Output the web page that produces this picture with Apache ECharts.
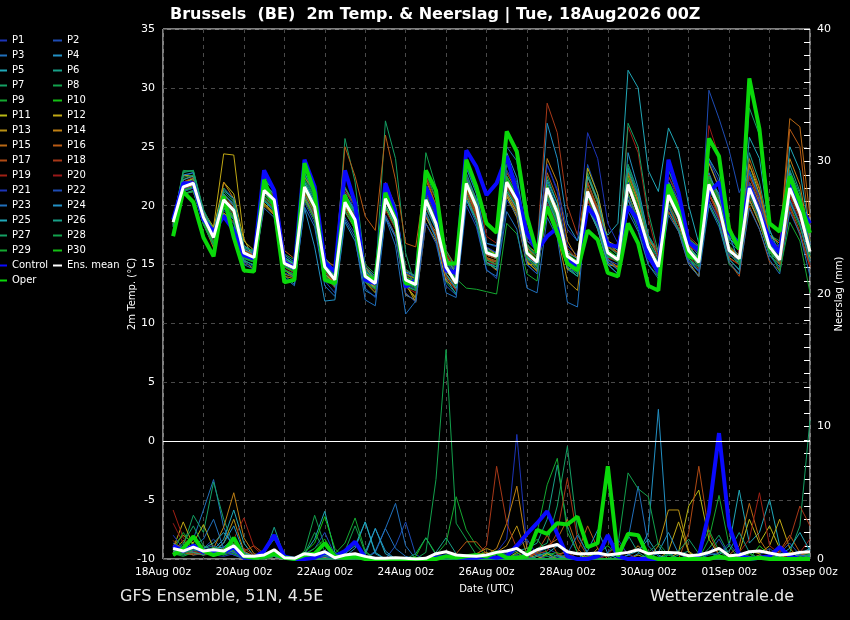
<!DOCTYPE html>
<html><head><meta charset="utf-8">
<script src="https://cdn.jsdelivr.net/npm/echarts@6/dist/echarts.min.js"></script>
<style>html,body{margin:0;padding:0;background:#000}#c{width:850px;height:620px}</style>
</head><body><div id="c"></div>
<script>
// forecast hours (6-hourly, from 18Aug 06z)
const hours = [6,12,18,24,30,36,42,48,54,60,66,72,78,84,90,96,102,108,114,120,126,132,138,144,150,156,162,168,174,180,186,192,198,204,210,216,222,228,234,240,246,252,258,264,270,276,282,288,294,300,306,312,318,324,330,336,342,348,354,360,366,372,378,384];
const xTickLabels = ['18Aug 00z','20Aug 00z','22Aug 00z','24Aug 00z','26Aug 00z','28Aug 00z','30Aug 00z','01Sep 00z','03Sep 00z'];
const tempTicks = [-10,-5,0,5,10,15,20,25,30,35];
const rainTicks = [0,10,20,30,40];

// 2m temperature (°C)
const meanT = [18.6,21.6,21.9,19.0, 17.3,20.5,19.6,16.0, 15.6,21.3,20.5,15.1, 14.7,21.6,19.9,14.8, 13.7,20.3,18.8,14.0, 13.4,20.6,18.8,13.7, 13.3,20.5,18.5,14.8, 13.4,21.9,19.9,16.0, 15.7,22.0,20.5,16.0, 15.2,21.5,19.4,15.7, 15.1,21.2,19.1,16.0, 15.4,21.8,19.4,16.5, 14.8,20.9,19.1,16.2, 15.2,21.8,19.9,16.2, 15.5,21.5,19.4,16.5, 15.4,21.5,19.4,16.1];
const controlT = [18.8,21.9,21.9,18.8, 17.8,19.1,17.9,15.8, 15.5,23.0,21.3,15.2, 14.7,23.9,21.6,15.2, 14.4,23.0,20.2,13.7, 13.4,21.9,19.4,13.1, 13.7,21.6,19.6,14.5, 14.3,24.7,23.3,20.9, 21.9,24.2,21.1,17.7, 16.2,17.4,18.1,15.4, 14.8,19.9,18.8,16.7, 16.5,19.9,18.8,15.7, 14.4,23.9,21.1,16.9, 16.2,21.1,22.0,17.7, 16.8,21.6,19.4,17.1, 16.0,21.9,19.9,18.5];
const operT = [17.4,21.2,20.3,17.3, 15.7,20.8,17.3,14.5, 14.4,22.2,19.9,13.5, 13.7,23.6,21.1,13.7, 13.4,20.9,18.2,14.0, 13.7,21.1,18.8,13.4, 13.4,23.0,21.3,15.1, 15.1,23.9,21.6,18.5, 17.7,26.3,24.6,19.1, 16.0,19.9,17.7,15.1, 14.5,17.9,17.1,14.3, 14.0,18.5,16.8,13.2, 12.8,21.8,19.6,15.7, 15.4,25.7,24.2,18.0, 16.3,30.8,26.5,18.5, 17.8,22.5,20.3,17.7];
const P1_T = [18.9,22.5,22.8,19.4, 17.8,21.5,20.6,16.4, 16.0,22.3,21.2,15.6, 15.0,22.6,20.8,15.2, 14.2,21.5,19.6,14.5, 13.8,21.9,19.8,14.3, 13.9,21.6,19.5,15.4, 14.0,23.4,21.2,16.8, 16.5,24.0,22.0,17.0, 16.2,23.5,21.2,16.6, 15.8,20.0,18.5,15.2, 14.6,19.8,18.3,16.0, 15.3,22.5,20.4,17.0, 16.0,23.8,21.5,17.2, 16.3,20.5,18.6,15.8, 14.6,20.2,18.5,15.4];
const P2_T = [18.4,21.8,22.0,18.8, 17.0,19.8,19.0,15.7, 15.3,20.8,20.0,14.8, 14.3,21.0,19.3,14.4, 13.3,19.6,18.2,13.6, 13.0,19.8,18.2,13.3, 12.9,19.8,18.0,14.2, 12.9,21.2,19.4,15.5, 15.2,21.4,20.0,15.4, 14.6,20.8,18.8,15.2, 14.5,23.5,21.0,17.0, 16.4,23.0,20.8,17.4, 15.8,19.5,18.0,15.3, 14.5,29.8,27.4,24.7, 21.1,23.0,20.5,17.3, 16.0,23.0,20.6,17.0];
const P3_T = [18.7,22.0,22.2,19.2, 17.6,20.9,20.2,16.5, 16.0,21.0,20.3,15.4, 15.1,22.2,20.5,15.4, 14.2,20.7,19.4,14.6, 13.9,21.0,19.5,14.4, 13.4,20.6,18.9,14.9, 13.7,22.4,20.3,16.3, 16.0,25.0,23.8,18.0, 16.5,22.0,19.8,15.5, 14.8,20.5,18.5,15.0, 14.2,23.5,21.2,17.5, 16.0,23.0,20.8,17.2, 16.2,20.5,18.8,15.5, 14.5,22.0,20.3,17.0, 16.2,20.5,18.5,15.0];
const P4_T = [18.2,21.3,21.5,18.6, 16.8,19.8,18.9,15.4, 14.9,20.4,19.5,14.1, 13.3,19.8,16.5,11.9, 12.0,18.6,17.0,12.8, 12.3,19.0,17.3,12.4, 12.0,19.1,17.2,13.8, 12.5,20.8,18.8,15.2, 14.8,21.0,19.5,15.0, 14.2,20.2,18.3,14.6, 14.0,19.8,18.0,15.2, 14.6,24.5,21.5,17.5, 16.0,21.5,19.6,16.8, 15.8,22.8,20.6,16.5, 15.0,20.5,18.6,15.8, 14.8,22.5,20.3,16.6];
const P5_T = [18.5,21.5,21.8,18.9, 17.1,20.2,19.4,15.8, 15.4,21.0,20.2,14.9, 14.5,21.4,19.7,14.6, 13.5,20.0,18.5,13.8, 13.2,20.4,18.6,13.5, 13.1,20.3,18.3,14.6, 13.2,21.6,19.6,15.8, 15.5,21.6,20.1,15.7, 14.9,21.0,19.0,15.4, 14.8,20.8,19.0,17.5, 18.5,31.5,30.0,23.0, 21.2,26.6,24.7,20.0, 16.8,21.0,19.3,16.0, 15.0,22.8,20.5,16.8, 15.8,21.0,19.0,15.8];
const P6_T = [18.8,21.9,22.3,19.3, 17.5,21.0,20.0,16.3, 15.8,21.7,20.9,15.4, 15.0,22.0,20.2,15.0, 13.9,20.8,19.2,14.3, 13.6,21.1,19.2,13.9, 13.5,21.0,18.9,15.1, 13.6,22.3,20.3,16.4, 16.0,22.5,21.0,16.5, 15.6,20.6,18.6,15.0, 14.5,22.0,19.8,16.6, 16.0,23.0,20.5,17.4, 15.6,20.2,18.5,15.5, 14.4,22.6,20.8,16.9, 16.2,24.5,22.0,17.8, 16.5,23.5,21.2,16.8];
const P7_T = [18.3,22.9,23.0,19.5, 17.8,20.7,19.4,15.8, 15.2,21.9,21.0,15.6, 15.1,22.5,20.6,15.3, 14.2,25.7,22.0,14.8, 13.8,27.2,24.0,16.0, 13.0,19.5,17.5,13.5, 12.5,21.0,19.0,15.5, 15.2,21.5,20.0,15.6, 15.0,22.5,20.2,16.2, 15.5,22.8,20.5,16.6, 15.8,20.0,18.0,15.0, 14.0,19.5,18.0,15.5, 14.6,22.0,20.2,16.5, 15.8,20.5,18.5,15.8, 15.0,23.0,21.0,17.0];
const P8_T = [18.6,23.0,22.9,19.4, 17.6,21.5,20.4,16.6, 16.0,22.5,21.3,15.6, 15.1,22.8,21.0,15.3, 14.1,21.0,19.4,14.4, 13.7,21.5,19.3,14.1, 13.8,24.5,21.6,15.5, 13.7,22.2,20.2,16.2, 15.8,21.2,19.8,15.5, 14.8,20.0,18.2,14.7, 14.0,22.5,20.2,16.5, 15.8,23.5,21.0,17.3, 16.3,21.8,19.8,16.5, 15.5,20.0,18.5,15.0, 14.2,23.0,21.0,17.5, 17.0,22.2,20.0,16.3];
const P9_T = [18.4,21.2,21.5,18.7, 17.0,20.3,19.4,15.9, 15.5,20.8,20.0,14.8, 14.4,21.1,19.4,14.5, 13.4,20.0,18.5,13.7, 13.1,20.3,18.6,13.4, 13.0,20.2,18.2,14.5, 13.8,13.0,12.9,12.7, 12.5,18.5,17.6,14.2, 13.6,21.0,19.2,15.8, 15.2,21.8,19.8,16.3, 15.6,22.6,20.2,17.0, 15.2,21.0,19.3,16.4, 15.4,22.4,20.4,16.6, 15.8,22.0,19.8,16.8, 15.6,20.0,18.2,15.4];
const P10_T = [18.7,21.8,22.1,19.1, 17.4,20.6,19.8,16.2, 15.7,21.5,20.7,15.2, 14.8,21.8,20.1,14.9, 13.8,20.5,19.0,14.1, 13.5,20.8,19.0,13.8, 13.4,20.7,18.7,15.0, 13.5,22.1,20.1,16.2, 15.9,22.3,20.8,16.2, 15.4,21.8,19.6,15.9, 15.3,21.4,19.3,16.2, 15.6,22.0,19.6,16.7, 15.0,21.1,19.3,16.4, 15.4,22.0,20.1,16.4, 15.7,21.7,19.6,16.7, 15.6,21.7,19.6,16.3];
const P11_T = [18.9,22.0,22.3,19.6, 18.0,22.0,21.0,17.0, 16.2,20.2,19.4,14.5, 14.0,20.5,18.8,14.0, 13.2,19.5,18.0,13.5, 12.6,19.8,18.0,13.2, 12.2,19.0,17.5,14.0, 12.8,20.8,19.0,15.4, 15.0,20.8,19.2,15.2, 14.5,21.5,19.8,16.0, 15.6,23.2,21.0,17.0, 16.5,22.2,19.8,16.5, 14.6,20.0,18.0,15.2, 14.0,21.5,19.6,16.4, 15.5,23.5,21.0,17.0, 16.0,21.5,19.2,15.6];
const P12_T = [18.8,22.6,22.5,19.5, 18.2,24.4,24.3,17.2, 15.4,20.5,19.8,14.6, 13.8,20.6,19.0,14.2, 13.4,20.0,18.4,13.8, 13.0,20.0,18.4,13.4, 11.8,18.5,17.0,13.6, 13.0,21.5,19.5,15.8, 15.5,20.8,19.0,15.0, 15.0,20.0,18.0,14.6, 14.8,20.8,18.8,16.0, 15.4,21.0,18.8,16.0, 14.5,20.6,19.0,16.0, 15.5,23.6,21.5,17.6, 16.2,22.0,19.8,16.5, 15.0,21.0,19.0,16.2];
const P13_T = [18.4,21.4,21.7,18.7, 16.6,19.4,18.6,15.3, 14.6,20.1,19.3,14.2, 13.9,22.4,21.2,15.5, 14.5,20.6,19.0,14.1, 13.0,20.0,18.3,13.3, 12.1,19.0,17.8,14.4, 13.5,22.5,20.5,16.5, 15.8,21.0,19.4,15.3, 14.4,19.5,17.5,13.6, 12.8,20.0,18.0,15.0, 14.8,22.5,20.3,17.0, 16.2,22.0,20.0,16.8, 15.2,20.5,18.8,15.6, 15.0,20.5,18.5,16.0, 15.5,22.0,19.8,16.2];
const P14_T = [18.3,21.0,21.2,18.5, 16.4,22.0,20.6,14.4, 14.6,20.0,19.2,14.0, 13.8,20.8,19.0,14.0, 13.2,21.5,20.0,14.8, 13.6,21.2,19.5,14.2, 13.8,22.2,20.0,15.8, 14.2,20.8,19.0,15.2, 14.5,21.6,20.6,16.6, 16.0,24.0,22.0,17.0, 15.5,20.5,18.5,15.4, 14.8,21.0,18.8,16.0, 14.2,20.0,18.4,15.8, 15.0,21.0,19.5,16.5, 15.6,23.5,21.4,17.5, 16.8,24.0,21.8,17.0];
const P15_T = [18.5,21.7,22.0,19.0, 17.2,20.0,19.0,15.6, 15.2,21.6,20.8,15.4, 14.9,21.0,19.5,14.4, 13.4,19.8,18.3,13.6, 12.9,19.2,17.5,12.5, 11.9,19.8,18.2,14.2, 13.2,21.5,19.4,15.6, 15.3,22.8,21.2,16.4, 15.6,21.0,19.0,15.3, 14.4,22.5,20.4,16.8, 16.2,22.8,20.5,17.2, 15.8,21.5,19.8,16.8, 15.2,21.0,19.2,15.8, 15.4,24.0,21.5,17.4, 16.8,27.4,26.7,19.0];
const P16_T = [18.8,22.2,22.6,19.5, 17.4,20.5,19.5,16.0, 15.6,22.6,21.5,16.2, 15.5,21.6,20.0,15.5, 14.8,25.0,22.5,19.1, 17.9,26.0,22.2,16.8, 16.5,22.5,20.0,16.2, 14.8,21.2,19.2,15.6, 15.0,21.5,20.2,16.5, 15.2,22.8,20.6,16.0, 15.0,21.5,19.6,16.8, 16.0,20.5,18.5,15.7, 14.2,19.5,17.8,15.0, 14.0,21.8,20.0,16.5, 15.8,22.5,20.2,17.2, 16.4,26.5,25.0,17.5];
const P17_T = [18.6,21.5,21.8,18.8, 17.0,20.4,19.6,16.2, 15.8,21.2,20.3,15.0, 14.6,21.4,19.8,14.7, 13.6,20.4,19.0,14.3, 13.6,21.0,19.2,14.0, 13.6,21.2,19.2,15.5, 14.2,21.5,19.4,15.5, 15.2,21.2,19.6,15.5, 14.8,21.2,19.4,16.0, 15.6,22.0,19.8,16.5, 16.0,21.0,18.8,15.8, 14.5,22.0,20.2,17.2, 16.5,21.0,19.0,15.2, 14.0,20.0,18.0,15.2, 14.5,20.0,17.8,14.8];
const P18_T = [18.7,22.0,22.4,19.2, 17.6,20.9,19.8,16.1, 15.7,21.0,20.0,14.8, 14.3,20.8,19.2,14.4, 13.5,21.2,20.0,14.9, 14.0,22.0,20.0,14.5, 14.0,22.5,20.5,16.0, 14.5,22.0,20.0,15.8, 15.5,23.0,21.5,17.0, 16.5,28.7,26.2,20.0, 17.5,22.0,19.5,15.5, 14.6,20.5,18.5,15.5, 14.3,22.5,20.8,17.4, 16.6,22.6,20.5,16.5, 15.2,20.8,18.8,16.2, 15.0,19.8,17.5,14.8];
const P19_T = [18.5,21.9,22.1,19.0, 17.3,21.0,20.0,16.3, 15.9,21.8,20.8,15.3, 14.8,21.2,19.6,14.9, 13.9,20.6,19.0,14.2, 13.5,20.4,18.6,13.9, 13.6,21.4,19.8,15.8, 14.6,23.5,21.8,17.4, 16.8,22.0,20.0,15.8, 15.0,21.5,19.6,16.4, 15.4,21.0,18.8,15.6, 15.2,26.7,24.5,19.0, 15.5,20.5,18.8,15.8, 14.6,21.0,19.0,15.5, 15.0,22.5,20.6,17.0, 16.0,20.8,18.6,15.0];
const P20_T = [18.4,21.6,21.8,18.9, 17.1,20.2,19.3,15.7, 15.3,20.6,19.8,14.6, 14.2,20.4,19.0,14.1, 13.0,19.6,18.2,13.5, 12.8,19.6,18.0,13.1, 12.6,19.2,17.6,13.9, 12.8,21.0,19.0,15.2, 15.0,21.6,20.0,15.6, 14.6,20.2,18.4,15.4, 15.0,20.5,18.6,15.5, 15.4,21.5,19.2,16.4, 15.5,20.0,18.4,16.6, 16.0,26.8,24.2,18.5, 16.0,21.0,18.8,16.0, 15.2,21.0,19.0,16.2];
const P21_T = [18.6,21.4,21.6,18.8, 17.2,20.6,19.7,16.1, 15.6,21.4,20.6,15.2, 14.8,21.6,20.0,14.9, 13.8,20.4,18.9,14.1, 13.5,20.8,19.0,13.9, 13.6,20.9,19.0,15.2, 14.0,22.5,20.6,16.5, 16.0,23.0,21.4,17.0, 16.6,23.5,21.4,18.0, 17.0,26.2,24.0,18.5, 16.8,22.0,19.5,16.2, 14.2,19.8,18.0,15.2, 14.4,20.5,18.8,15.8, 15.3,22.0,20.0,17.0, 16.5,22.0,20.0,16.8];
const P22_T = [18.3,21.2,21.5,18.6, 16.9,19.6,18.8,15.2, 14.8,20.5,19.6,14.3, 13.9,20.3,18.5,13.6, 12.6,19.0,17.6,13.0, 12.2,19.2,17.4,12.6, 11.8,18.5,16.8,13.2, 12.4,20.0,18.2,14.6, 13.8,20.5,19.2,15.0, 14.2,20.0,18.0,14.8, 14.2,20.0,18.2,15.4, 15.0,20.8,18.6,15.6, 14.0,22.0,20.5,17.0, 16.5,24.0,22.0,17.5, 16.8,23.0,20.8,17.0, 15.5,20.5,18.5,15.2];
const P23_T = [18.4,21.0,21.2,18.4, 16.6,19.3,18.5,15.0, 14.6,19.8,19.0,13.9, 13.2,19.9,18.2,13.2, 12.3,18.8,17.3,12.0, 11.5,19.0,16.6,10.8, 11.9,19.4,17.2,12.6, 12.2,20.5,18.5,14.5, 14.0,19.5,18.0,13.0, 12.6,19.0,17.3,11.8, 11.4,21.0,19.5,15.5, 14.5,19.5,17.8,15.0, 13.8,19.2,17.8,15.0, 14.0,20.0,18.2,15.2, 14.2,19.8,18.0,15.4, 14.2,19.5,17.6,14.0];
const P24_T = [18.9,22.6,22.8,19.6, 17.9,21.3,20.6,16.6, 16.1,22.1,21.4,15.8, 15.2,22.8,21.0,15.6, 14.4,21.0,19.6,14.8, 14.0,21.6,19.5,14.4, 14.0,21.5,19.3,15.6, 14.2,23.2,21.0,16.8, 16.6,24.5,22.4,17.4, 16.2,27.0,24.0,18.5, 17.0,20.0,18.0,15.0, 14.2,20.5,18.4,15.5, 14.8,22.0,20.0,16.5, 15.6,24.0,22.5,17.5, 15.2,21.0,19.0,16.6, 16.0,22.8,20.6,16.5];
const P25_T = [18.7,22.2,22.5,19.3, 17.7,21.0,20.0,16.3, 15.9,21.8,21.0,15.6, 15.0,22.0,20.3,15.1, 14.0,21.0,19.4,14.4, 13.7,20.0,18.2,13.2, 12.8,20.0,18.0,14.2, 13.0,20.5,18.8,15.2, 14.6,21.2,19.8,15.6, 15.0,22.2,20.2,16.0, 15.5,22.5,20.5,16.8, 16.2,21.5,19.5,16.3, 15.0,21.8,19.6,16.5, 15.5,22.5,21.0,17.2, 16.5,25.8,24.0,18.0, 15.8,25.0,23.0,17.5];
const P26_T = [18.2,21.0,21.3,18.4, 16.7,19.8,18.8,15.3, 15.0,20.5,19.7,14.6, 14.0,20.8,19.0,14.2, 13.1,19.5,18.2,13.5, 13.0,20.0,18.5,13.4, 13.2,21.5,19.8,15.5, 14.5,22.8,20.5,16.2, 15.5,22.0,20.2,15.6, 14.6,20.5,18.5,14.8, 14.0,20.0,18.2,15.6, 15.8,23.2,20.8,17.0, 15.5,21.5,19.2,16.0, 14.8,20.2,18.5,15.4, 14.6,21.0,19.0,16.0, 15.2,20.4,18.4,15.2];
const P27_T = [18.8,22.8,23.0,19.7, 17.9,20.5,19.0,15.5, 15.2,20.7,19.9,14.5, 14.2,21.4,19.9,14.8, 13.7,20.9,19.4,14.5, 13.9,21.8,20.0,14.6, 14.0,22.8,20.6,16.2, 14.6,21.0,18.8,15.0, 14.8,22.5,21.0,16.6, 15.8,21.5,19.0,15.0, 14.2,21.0,19.2,16.0, 15.5,27.0,25.0,19.5, 16.0,20.0,18.0,15.5, 14.8,21.5,19.5,16.0, 15.6,28.3,26.0,17.5, 16.0,21.5,19.5,16.0];
const P28_T = [18.6,22.4,22.6,19.3, 17.5,21.2,20.3,16.4, 16.2,22.2,21.4,15.9, 15.4,22.2,20.6,15.5, 14.5,21.6,20.0,15.0, 14.2,21.0,19.0,13.8, 13.4,20.5,18.5,15.0, 13.8,22.0,19.6,15.4, 15.0,23.5,21.8,16.8, 15.6,20.8,18.8,15.2, 14.8,20.8,18.6,15.7, 15.2,21.0,18.8,16.2, 15.0,23.0,21.2,17.2, 16.5,21.8,19.6,16.0, 15.0,21.0,18.8,16.0, 15.4,21.2,19.2,15.8];
const P29_T = [17.9,21.0,21.2,18.4, 16.6,20.0,19.2,15.6, 15.2,20.5,19.7,14.5, 14.1,20.5,18.8,14.1, 13.3,19.6,18.0,13.5, 12.9,19.9,18.1,13.1, 12.8,20.2,18.4,14.6, 13.2,22.0,20.2,16.0, 15.6,21.4,20.0,15.5, 14.8,21.2,19.0,15.3, 15.0,21.0,19.0,15.8, 15.2,22.4,20.0,16.5, 14.6,20.5,18.8,16.0, 15.0,22.5,20.5,16.5, 15.2,21.0,19.0,16.2, 14.4,18.6,17.0,12.6];
const P30_T = [18.5,21.3,21.6,18.6, 16.9,20.0,19.0,15.6, 15.3,21.0,20.1,14.8, 14.4,21.3,19.6,14.6, 13.6,20.2,18.7,13.9, 13.4,20.8,19.1,13.9, 13.6,20.8,18.8,15.0, 13.5,21.6,19.7,16.0, 15.9,22.4,20.8,16.3, 15.4,21.6,19.5,15.8, 15.3,21.0,19.0,15.9, 15.6,21.6,19.2,16.6, 15.0,21.2,19.4,16.5, 15.3,22.2,20.2,16.4, 15.4,21.2,19.0,16.2, 15.3,21.8,19.8,16.5];

// precipitation (mm)
const meanR = [0.8,0.6,0.9,0.6,0.7,0.6,1.0,0.2, 0.2,0.3,0.7,0.1,0.05,0.4,0.3,0.55, 0.1,0.3,0.4,0.2,0.05,0.05,0.1,0.05, 0,0.05,0.4,0.55,0.3,0.25,0.2,0.3, 0.5,0.6,0.8,0.3,0.7,0.9,1.1,0.55, 0.4,0.4,0.45,0.3,0.4,0.5,0.7,0.4, 0.5,0.5,0.45,0.25,0.3,0.5,0.8,0.25, 0.3,0.55,0.6,0.45,0.3,0.35,0.5,0.55];
const controlR = [1.0,0.6,1.0,0.5,0.6,0.5,0.9,0.1, 0.1,0.6,1.8,0.2,0,0,0.1,0.5, 0.2,0.6,1.3,0.1,0,0,0,0, 0,0,0.1,0.2,0.1,0.1,0.1,0.2, 0.1,0.2,1.0,1.9,2.7,3.6,1.9,0.2, 0,0,0.2,1.8,0.2,0,0,0, 0,0,0,0,0.2,3.5,9.5,2.5, 0.3,0,0.1,0.2,0.9,0.2,0,0];
const operR = [0.3,0.8,1.7,0.6,0.3,0.5,1.6,0.2, 0.1,0.2,0.4,0.1,0,0.3,0.4,1.2, 0.2,0.1,0.2,0,0,0,0,0, 0,0,0,0.2,0.1,0.2,0.3,0.2, 0.5,0.1,0.1,0.2,2.2,1.9,2.7,2.6, 3.2,0.9,1.2,7.0,0.2,1.9,1.8,0.2, 0,0,0,0,0,0,0.2,0, 0,0,0.1,0,0,0,0,0];
const P1_R = [0.6,0.4,1.2,0.5,0.3,0.2,0.4,0.1, 0,0.2,0.5,0,0,0,0,0.2, 0.1,0,0,0,0,0,0,0, 0,0,0,0,0,0.1,0.2,0.3, 0.5,1.5,9.4,0.8,0.3,0.2,0.1,0, 0,0,0.2,0.4,0,0,0,0, 0,0,0,0,0,0.3,0.5,0.2, 0.5,0.2,0,0,0.3,0.1,0,0];
const P2_R = [0.4,0.3,0.6,0.8,1.5,0.6,0.3,0, 0,0.1,0.3,0,0,0.2,0.3,0.1, 0,0,0,0,0,0,1.0,2.8, 0.3,0,0,0,0,0,0,0, 0.2,0.5,0.3,0,0.5,0.8,0.4,0, 0,0.2,0,0,0,0,0,0, 0,0,0,0.3,0,0.4,1.5,0.2, 0,0,0.3,0.8,0.2,0,0,0.1];
const P3_R = [1.2,0.8,1.5,3.7,6.0,2.4,0.8,0.2, 0.1,0,0.4,0,0,0,0.2,0.3, 0,0,0,0,0.5,2.3,4.2,1.0, 0,0,0,0.2,0,0,0,0, 0,0,0.3,0.2,0.6,0.4,0,0, 0,0.2,0,0.3,0.5,1.5,5.5,1.0, 0.2,0,0,0,0,0,0,0, 0,0.2,0,0,0,0.5,0.2,0];
const P4_R = [0.5,0.6,0.3,0.4,0.8,0.9,1.5,0.3, 0,0.1,0.2,0,0,0,0.3,0.2, 0,0.2,0.8,2.8,0.4,0,0,0, 0,0,0,0,0,0,0,0, 0,0,0.2,0.4,0,0,0.3,0, 0,0,0,0,0,0,0.4,2.0, 11.3,0.5,0,0,0,0,0.2,0, 0,0,0,0.2,0,0,0.4,0.6];
const P5_R = [0.3,0.5,0.6,0.4,0.7,1.5,3.7,1.2, 0.2,0.3,0.6,0,0,0.4,1.5,3.6, 0.5,0,0,0.3,2.3,0.4,0,0, 0,0,0,0,0,0,0,0, 0,0,0.2,0,0.3,0.4,1.0,0.5, 0,0,0,0,0,0,0,0.3, 0,0,0,0,0.2,0.4,0.3,1.0, 5.2,1.2,2.0,4.5,1.0,0.3,0,0.2];
const P6_R = [0.8,0.6,0.5,0.3,0.4,0.5,0.6,0.3, 0.2,0.3,2.4,0.2,0,0,0,0.3, 0,0,0.2,0,0,0,0,0, 0,0,0.5,1.6,0.4,0,0,0, 0,0.3,0.6,0.8,1.2,3.0,7.1,2.5, 0.4,0,0,0,0,0,0,0, 0,0,0.3,0.6,0,0,0,0, 0.5,0,0,0,0,0.4,0.6,0.3];
const P7_R = [0.3,1.0,3.3,2.0,5.8,3.0,1.0,0.2, 0,0.2,0.4,0,0,0.2,0.5,0.3, 0,0,0,0,0,0,0,0, 0,0,0,0,0,0,0.2,0, 0,0,0,0.3,0.8,1.2,4.0,8.5, 2.0,0.3,0,0,0,0,0,0, 0,0.4,0,0,0,0.8,1.8,0.3, 0,0,0.2,0,0.3,0.5,2.5,10.5];
const P8_R = [0.5,0.3,0.4,0.6,0.5,0.4,0.8,0.2, 0,0,0.3,0,0,0.6,3.3,1.0, 0,0,0,0,0,0,0,0, 0,0.5,6.0,15.8,2.7,1.5,0.3,0, 0,0,0,0.4,0.5,0.2,0,0, 0,0,0,0.5,1.0,6.5,5.3,4.7, 1.0,0,0,0,0,0,0,0, 0,0,0,0,0,0,0.3,0.4];
const P9_R = [0.4,0.2,0.5,0.3,0.6,0.3,0.5,0.1, 0,0,0.2,0,0,0.1,0.3,0.5, 0.4,1.2,3.1,0.6,0,0,0,0, 0,0,0.3,1.2,4.7,2.2,1.0,0.2, 0,0,0,0,2.0,5.6,7.6,2.0, 0.5,0,0,0,0,0,0,0, 0,0,0,0,0,1.5,4.8,1.0, 0,0,0,0,0.2,0,0,0];
const P10_R = [0.3,0.4,0.8,0.5,0.3,0.6,0.4,0, 0,0.1,0.3,0,0,0.5,1.2,3.2, 0.8,0,0,0,0,0,0,0, 0.2,1.6,0.4,0,0,0,0,0, 0,0,0.2,0,0,0.3,0.5,0, 0,0.2,0.4,1.0,0.3,0,0,0, 0,0,0,0,0.2,0,0,0, 0,0.4,0,0,0,0,0.2,0.3];
const P11_R = [1.0,1.8,1.2,2.6,0.8,0.5,0.6,0.2, 0,0.1,0.2,0,0,0,0,0.1, 0,0,0,0,0,0,0,0, 0,0,0,0,0,0,0,0, 0,0,0.5,0,0,0,0.3,0.6, 0.4,0,0,0,0,0,0.3,0, 0,0,0.5,4.0,5.2,1.5,0.3,0, 0.5,3.0,1.2,2.5,0.8,0,0,0];
const P12_R = [0.8,2.8,1.0,0.6,0.4,0.8,1.0,0.3, 0.1,0,0.3,0,0,0,0,0, 0,0,0,0,0,0,0,0, 0,0,0,0,0,0,0.3,0.5, 0.2,0,0,0,0,0.4,0,0, 0,0,0.8,0,0,0,0,0, 0,0.6,2.8,0.5,0,0,0,0, 0,0.6,0.4,1.0,3.0,0.8,0,0];
const P13_R = [0.5,1.4,0.8,1.0,0.6,1.2,3.0,0.6, 0.2,0.3,0.4,0,0,0,0,0, 0,0,0,0,0,0,0,0, 0,0,0,0,0,0,0.4,0.8, 0.5,1.0,2.5,0.4,0,0,0,0.3, 0,0,0,0,0,0,0,0, 1.0,3.7,3.7,0.6,0,0,0,0, 0,0,0,0.3,0,0,0,0];
const P14_R = [0.4,0.6,0.9,0.5,0.8,2.4,5.0,1.6, 0.4,0.2,0.5,0,0,0,0,0, 0,0,0,0,0,0,0,0, 0,0,0,0,0,0,0,0.3, 0.8,2.7,5.5,0.8,0.2,0,0,0, 0,0,0,0,0,0.3,1.0,0.2, 0,0,0,0,0,0,0,0, 0,0,0.3,0,0,0.5,0.4,0];
const P15_R = [0.6,0.8,1.5,0.7,0.4,0.5,0.9,0.4, 0.1,0,0.2,0,0,0,0,0, 0,0,0,0,0,0,0,0, 0,0,0,0,0,0,0,0, 0,0,0.3,0,0.5,1.0,1.5,3.0, 0.8,0,0,0,0,0,0,0, 0,0,0,0,0,0,0,0.3, 1.0,4.2,1.5,0.3,0,0,0.3,0.5];
const P16_R = [0.7,0.5,0.3,0.6,0.4,0.7,1.2,0.5, 0.2,0.1,0.3,0,0,0,0,0, 0,0,0,0,0,0,0,0, 0,0,0,0,0.4,1.3,1.3,0.4, 0,0,0,0,0,0,0.3,0, 0.5,2.5,0.8,0,0,0,0,0, 0,0,0,0,0,0,0,0, 0,0,0,0.3,0.6,1.8,0.5,0];
const P17_R = [1.0,0.8,0.5,0.4,0.6,0.5,0.8,0.6, 1.0,0.4,0.2,0,0,0,0,0, 0,0,0,0,0,0,0,0, 0,0,0,0,0,0,0,0, 0,0,0,0,0.5,1.8,0.4,0, 0,0,0,0,0,0,0,0, 0,0,0,2.0,7.0,2.0,0.3,0, 0,0,0,0,0,0,0.3,0.8];
const P18_R = [1.4,0.6,0.4,0.3,0.5,0.4,0.6,0.8, 0.3,0.2,0.3,0,0,0,0,0, 0,0,0,0,0,0,0,0, 0,0,0,0,0,0,0.3,1.0, 7.0,2.7,0.8,0.3,0.4,0.6,2.0,6.1, 1.5,0.2,0,0,0,0,0,0, 0,0,0,0,0,0,0,0, 0,0,0,0.2,0.5,1.5,4.0,2.5];
const P19_R = [3.7,1.6,0.8,0.5,0.4,0.6,1.5,3.1, 0.9,0.2,0.3,0,0,0,0,0, 0,0,0,0,0,0,0,0, 0,0,0,0,0,0,0,0, 0,0,0,0,0,0,0.3,0.5, 0,0,0,0,0,0,0,0, 0,0,0,0.3,0,0,0,0, 0.5,1.5,5.0,1.0,0.4,0,0,0];
const P20_R = [2.7,1.2,0.6,0.4,0.3,0.5,0.7,0.4, 0.2,0,0.3,0,0,0,0,0, 0,0,0,0,0,0,0,0, 0,0,0,0,0,0,0,0, 0,0,0.2,0,0,0,0,0, 0,0,0,0.3,1.2,0.4,0,0, 0,0,0,0,0,0,0,0, 0,0,0,0,0,0.3,0.5,1.5];
const P21_R = [1.8,0.8,0.6,0.9,0.7,0.4,0.5,0.2, 0,0.2,0.6,0,0,0,0,0.2, 0,0,0,0,0,0,0,0, 0,0,0,0,0,0,0,0, 0,0,0.3,0.2,0,0,0,0, 0,0,0,0.5,1.5,0.3,0,0, 0,0,0,0,0,0,0.4,1.2, 0.2,0,0,0,0,0,0,0];
const P22_R = [0.9,0.5,0.7,0.8,1.0,0.6,0.3,0.1, 0,0.2,0.4,0,0,0.4,0.8,2.0, 0.3,0,0,0,0,0,0,0, 0,0,0,0,0,0,0,0, 0,0.4,0.8,1.5,0.3,0,0,0, 0,0,0,0,0,0,0,0, 0,0,0,0,0,0,0,0, 0,0,0,0,0.4,1.2,0.3,0];
const P23_R = [0.7,0.9,1.0,1.5,3.0,0.8,0.5,0.2, 0,0.1,0.2,0,0,0,0,0, 0,0,0,0,0.6,2.3,0.8,0.2, 0,0,0,0,0,0,0,0, 0,0,0,0,0,0,0,0.4, 1.8,0.5,0,0,0,0,0,0, 0,0,0,0,0,0,0,0, 0,0,0,0,0,0,0.3,0.2];
const P24_R = [0.6,0.7,0.9,0.6,0.5,1.2,2.5,0.5, 0.2,0,0.3,0,0,0,0,0, 0,0,0,0.5,2.3,0.6,0,0, 0,0,0,0,0,0,0,0, 0,0,0,0,0,0,0.3,0, 0,0.6,2.2,0.4,0,0,0,0, 0.5,2.0,0.4,0,0,0,0,0, 0,0,0,0,0,0,0.4,0.8];
const P25_R = [0.5,0.8,1.0,0.8,1.2,2.0,1.0,0.3, 0,0.2,0.2,0,0,0,0,0, 0,0.4,1.0,2.8,0.5,0,0,0, 0,0,0,0,0,0,0,0, 0,0,0,0,0,0,0,0, 0,0,0,0,0,0.3,0.6,1.5, 0.3,0,0,0,0,0,0,0, 0,0,0,0,0.3,0.8,2.0,0.6];
const P26_R = [0.4,0.6,0.5,0.3,0.8,0.6,1.4,0.4, 0.2,0.5,1.5,0.2,0,0,0,0, 0,0,0,0,0,0,0,0, 0,0,0,0,0,0,0,0, 0,0,0,0,0.2,0.5,0.2,0, 0,0,0,0,0.4,1.8,0.5,0, 0,0,0,0,0,0,0.5,0.6, 2.0,0.5,0,0,0,0,0,0];
const P27_R = [0.3,1.2,2.5,1.0,0.6,0.4,0.7,0.2, 0,0,0.3,0,0,0,0,0, 0,0,0,0,0,0,0,0, 0.4,1.6,0.3,0,0,0,0,0, 0,0,0,0,0,0,0,0, 0,0,0,0,0,0,0,0, 0,0.3,0.6,1.5,0.4,0,0,0, 0,0,0,0,0,0,0,0.3];
const P28_R = [0.5,0.4,0.7,0.5,0.9,0.7,0.6,0.3, 0.1,0,0.2,0,0,0.4,2.0,0.6, 0,0.6,2.5,0.5,0,0,0,0, 0,0,0,0,0,0,0,0, 0,0,0,0,0,0,0,0, 0,0,0,0,0,0,0,0.5, 1.2,0.3,0,0,0,0,0,0, 0,0,0,0,0.4,0.2,0,0];
const P29_R = [0.6,2.0,1.0,0.6,0.5,0.3,0.8,0.2, 0,0,0.3,0,0,0,0,0, 0,0,0,0,0,0,0,0, 0,0,0,0,0,0,0,0, 0,0,0.4,0.6,1.5,0.5,0,0, 0,0,0,0,0,0,0,0, 0,0,0,0,0.5,2.2,0.6,0, 0,0,0,0,0,0,0,0];
const P30_R = [0.4,0.9,1.8,0.7,0.5,0.6,1.2,0.3, 0,0.1,0.4,0,0,0.3,0.8,1.5, 0.3,0,0,0,0,0,0,0, 0,0,0,0,0,0,0,0, 0,0,0,0,0,0,0,0, 0,0,0,0,0,0,0,0, 0,0,0,0,0,0,0,0, 0,0,1.0,0.3,0,0,0,0];

const memberT = [P1_T,P2_T,P3_T,P4_T,P5_T,P6_T,P7_T,P8_T,P9_T,P10_T,P11_T,P12_T,P13_T,P14_T,P15_T,P16_T,P17_T,P18_T,P19_T,P20_T,P21_T,P22_T,P23_T,P24_T,P25_T,P26_T,P27_T,P28_T,P29_T,P30_T];
const memberR = [P1_R,P2_R,P3_R,P4_R,P5_R,P6_R,P7_R,P8_R,P9_R,P10_R,P11_R,P12_R,P13_R,P14_R,P15_R,P16_R,P17_R,P18_R,P19_R,P20_R,P21_R,P22_R,P23_R,P24_R,P25_R,P26_R,P27_R,P28_R,P29_R,P30_R];
const memberNames = ['P1','P2','P3','P4','P5','P6','P7','P8','P9','P10','P11','P12','P13','P14','P15','P16','P17','P18','P19','P20','P21','P22','P23','P24','P25','P26','P27','P28','P29','P30'];
const palette = ['#1c34b8','#1e4cb4','#2070bc','#2290c4','#20a8b8','#18a088','#14a064','#12a04c','#14a830','#14c014','#b8b814','#c0a814','#b89014','#c08014','#b86814','#b85a14','#b04a14','#a83818','#a02014','#981818'];

const FONT = 'DejaVu Sans';
const series = [];
memberNames.forEach((nm, i) => {
  const col = palette[i % 20];
  series.push({name: nm, type:'line', yAxisIndex:0, symbol:'none', z:2, animation:false,
    lineStyle:{width:1, color:col}, itemStyle:{color:col},
    data: hours.map((h, j) => [h, memberT[i][j]])});
  series.push({name: nm, type:'line', yAxisIndex:1, symbol:'none', z:2, animation:false,
    lineStyle:{width:1, color:col}, itemStyle:{color:col},
    data: hours.map((h, j) => [h, memberR[i][j]])});
});
const specials = [
  {name:'Control', col:'#0a0aff', w:4, z:4, T:controlT, R:controlR},
  {name:'Oper', col:'#0ad80a', w:4, z:5, T:operT, R:operR},
  {name:'Ens. mean', col:'#ffffff', w:3, z:6, T:meanT, R:meanR}
];
specials.forEach(s => {
  series.push({name:s.name, type:'line', yAxisIndex:0, symbol:'none', z:s.z, animation:false,
    lineStyle:{width:s.w, color:s.col}, itemStyle:{color:s.col},
    data: hours.map((h, j) => [h, s.T[j]])});
  series.push({name:s.name, type:'line', yAxisIndex:1, symbol:'none', z:s.z, animation:false,
    lineStyle:{width:s.w, color:s.col}, itemStyle:{color:s.col},
    data: hours.map((h, j) => [h, s.R[j]])});
});
// zero line on temperature axis
series.push({type:'line', yAxisIndex:0, data:[], z:1, markLine:{silent:true, symbol:'none', animation:false,
  label:{show:false}, lineStyle:{color:'#ffffff', width:1, type:'solid'}, data:[{yAxis:0}]}});

const legendLeft = ['P1','P3','P5','P7','P9','P11','P13','P15','P17','P19','P21','P23','P25','P27','P29','Control','Oper'];
const legendRight = ['P2','P4','P6','P8','P10','P12','P14','P16','P18','P20','P22','P24','P26','P28','P30','Ens. mean'];
const legendCommon = {orient:'vertical', top:34, itemWidth:9, itemHeight:2, itemGap:2, icon:'rect', selectedMode:false, padding:0,
  textStyle:{color:'#ffffff', fontSize:10, fontFamily:FONT, lineHeight:13}};

const chart = echarts.init(document.getElementById('c'), null, {renderer:'canvas'});
chart.setOption({
  backgroundColor:'#000000',
  animation:false,
  title:{text:'Brussels  (BE)  2m Temp. & Neerslag | Tue, 18Aug2026 00Z', left:165, top:2,
    textStyle:{color:'#ffffff', fontSize:16, fontWeight:'bold', fontFamily:FONT}},
  legend:[Object.assign({data:legendLeft, left:-2}, legendCommon), Object.assign({data:legendRight, left:53}, legendCommon)],
  grid:{left:163, right:40, top:29, bottom:61, show:true, borderColor:'#ffffff', borderWidth:1,
    backgroundColor:'transparent', outerBoundsMode:'none', containLabel:false},
  xAxis:{type:'value', min:0, max:384, interval:24,
    name:'Date (UTC)', nameLocation:'middle', nameGap:25, nameMoveOverlap:false,
    nameTextStyle:{color:'#ffffff', fontSize:10, fontFamily:FONT},
    axisLine:{show:false}, axisTick:{show:false},
    axisLabel:{color:'#ffffff', fontSize:10.5, fontFamily:FONT, margin:8, showMinLabel:true, showMaxLabel:true, hideOverlap:false,
      formatter: v => (v % 48 === 0 ? xTickLabels[v / 48] : '')},
    splitLine:{show:true, lineStyle:{color:'#4a4a4a', type:[4,4], width:1}}},
  yAxis:[
    {type:'value', min:tempTicks[0], max:tempTicks[tempTicks.length-1], interval:5, position:'left',
      name:'2m Temp. (°C)', nameLocation:'middle', nameGap:26, nameRotate:90, nameMoveOverlap:false,
      nameTextStyle:{color:'#ffffff', fontSize:10, fontFamily:FONT},
      axisLine:{show:false}, axisTick:{show:false},
      axisLabel:{color:'#ffffff', fontSize:11, fontFamily:FONT, margin:8},
      splitLine:{show:true, lineStyle:{color:'#4a4a4a', type:[4,4], width:1}}},
    {type:'value', min:rainTicks[0], max:rainTicks[rainTicks.length-1], interval:10, position:'right',
      name:'Neerslag (mm)', nameLocation:'middle', nameGap:24, nameRotate:90, nameMoveOverlap:false,
      nameTextStyle:{color:'#ffffff', fontSize:10, fontFamily:FONT},
      axisLine:{show:false},
      axisTick:{show:true, inside:true, length:6, lineStyle:{color:'#ffffff'}},
      minorTick:{show:true, splitNumber:10, length:6, lineStyle:{color:'#ffffff'}},
      axisLabel:{color:'#ffffff', fontSize:11, fontFamily:FONT, margin:7},
      splitLine:{show:false}}
  ],
  graphic:[
    {type:'text', left:120, top:589, style:{text:'GFS Ensemble, 51N, 4.5E', fill:'#e8e8e8', fontSize:16, fontFamily:FONT}},
    {type:'text', right:56, top:589, style:{text:'Wetterzentrale.de', fill:'#e8e8e8', fontSize:16, fontFamily:FONT}}
  ],
  series: series
});
</script>
</body></html>
